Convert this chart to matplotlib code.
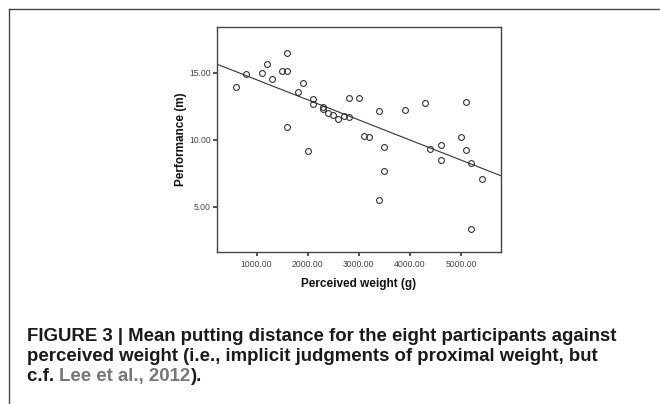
import numpy as np
import matplotlib
matplotlib.use('Agg')
import matplotlib.pyplot as plt
from matplotlib.lines import Line2D

# perceived weight (g) and performance (m)
weight = [600, 800, 1100, 1200, 1300, 1500, 1600, 1600, 1600, 1800,
          1900, 2000, 2100, 2100, 2300, 2300, 2400, 2500, 2600, 2700,
          2800, 2800, 3000, 3100, 3200, 3400, 3500, 3900, 4300, 4400,
          4600, 4600, 5000, 5100, 5100, 5200, 3500, 5400, 3400, 5200]
performance = [13.9, 14.93, 14.95, 15.65, 14.55, 15.1, 15.15, 16.45, 10.92, 13.55,
               14.24, 9.2, 13.04, 12.67, 12.48, 12.32, 12.02, 11.84, 11.54, 11.78,
               11.73, 13.13, 13.13, 10.3, 10.24, 12.11, 9.5, 12.24, 12.71, 9.3,
               9.6, 8.5, 10.2, 12.84, 9.23, 8.26, 7.71, 7.11, 5.5, 3.36]

xticks = [1000, 2000, 3000, 4000, 5000]
yticks = [5, 10, 15]

caption_lines = ['FIGURE 3 | Mean putting distance for the eight participants against',
                 'perceived weight (i.e., implicit judgments of proximal weight, but']
caption_start = 'c.f. '
caption_ref = 'Lee et al., 2012'
caption_end = ').'

W, H = 660, 404
fig = plt.figure(figsize=(W / 100, H / 100), dpi=100)
fig.patch.set_facecolor('white')

ax = fig.add_axes([217 / W, 1 - 252 / H, 284 / W, 225 / H])
dark = '#333333'

ax.plot(weight, performance, 'o', markersize=4.2, markerfacecolor='none',
        markeredgecolor=dark, markeredgewidth=0.8)

# least squares line over the whole axis
slope, intercept = np.polyfit(weight, performance, 1)
xl = np.array([225, 5780])
ax.plot(xl, intercept + slope * xl, color=dark, linewidth=0.8)

ax.set_xlim(225, 5780)
ax.set_ylim(1.65, 18.4)
ax.set_xticks(xticks)
ax.set_yticks(yticks)
ax.set_xticklabels(['%.2f' % t for t in xticks])
ax.set_yticklabels(['%.2f' % t for t in yticks])
ax.tick_params(direction='out', length=3, width=1.2, colors=dark,
               labelsize=6.2, pad=1.5)
ax.tick_params(axis='x', pad=2.5)
for lab in ax.get_xticklabels() + ax.get_yticklabels():
    lab.set_family('Liberation Sans')
    lab.set_color('#444444')
for s in ax.spines.values():
    s.set_color('#444444')
    s.set_linewidth(1.0)

ax.set_xlabel('Perceived weight (g)', fontsize=8.5, fontweight='bold',
              family='Liberation Sans', color='#111111', labelpad=7)
ax.set_ylabel('Performance (m)', fontsize=8.5, fontweight='bold',
              family='Liberation Sans', color='#111111', labelpad=1.5)

# page frame lines (top and left)
fig.add_artist(Line2D([9 / W, 1], [1 - 9 / H, 1 - 9 / H], color='#444444', linewidth=1.0))
fig.add_artist(Line2D([9 / W, 9 / W], [0, 1 - 9 / H], color='#444444', linewidth=1.0))

cap_font = dict(family='Liberation Sans', fontweight='bold',
                fontsize=13.4, color='#1a1a1a', va='baseline', ha='left')
baselines = [340.7, 360.7, 380.7]
left = 27 / W
for line, b in zip(caption_lines, baselines):
    fig.text(left, 1 - b / H, line, **cap_font)

r = fig.canvas.get_renderer()
x0 = left
t = fig.text(x0, 1 - baselines[2] / H, caption_start, **cap_font)
x0 += t.get_window_extent(r).width / W
gray_font = dict(cap_font, color='#777777')
t = fig.text(x0, 1 - baselines[2] / H, caption_ref, **gray_font)
x0 += t.get_window_extent(r).width / W
fig.text(x0, 1 - baselines[2] / H, caption_end, **cap_font)

fig.savefig('out.png', dpi=100)
plt.close()
